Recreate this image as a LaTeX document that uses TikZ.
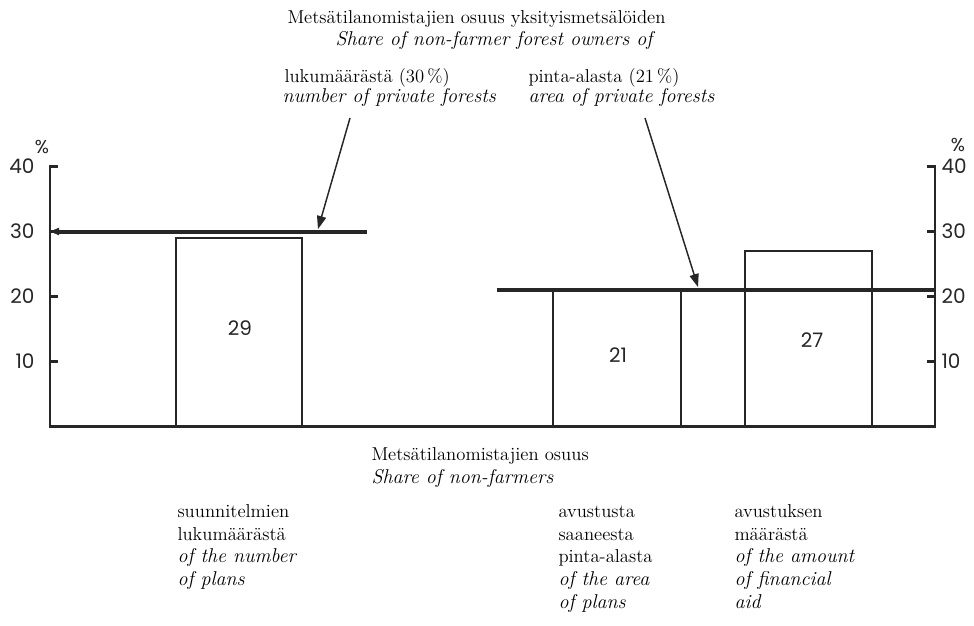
\documentclass[tikz,border=0pt]{standalone}
\usepackage{fontspec}
\newfontfamily\gothic{Poppins}
\newcommand{\en}{\itshape\fontsize{15}{16.9}\selectfont}
\definecolor{ink}{RGB}{38,38,38}
\tikzset{every picture/.style={line width=0.75pt}}
\tikzset{
  lbl/.style={anchor=base west, inner sep=0.75pt, text=black, align=left, font=\fontsize{14}{16.9}\selectfont},
  ticknum/.style={inner sep=0.75pt, text=ink, font=\gothic\fontsize{15}{18}\selectfont},
  pct/.style={inner sep=0.75pt, text=ink, font=\gothic\fontsize{14}{16}\selectfont},
  axis/.style={draw=ink, line width=1.8pt},
  bar/.style={draw=ink, line width=1.5pt},
  level/.style={draw=ink, line width=3pt},
  pointer/.style={draw=ink, line width=1.1pt},
  head/.style={fill=ink, draw opacity=0, line width=0.08},
}

\begin{document}
\begin{tikzpicture}[x=0.75pt,y=0.75pt,yscale=-1,xscale=1]
\useasboundingbox (0,0) rectangle (974,625);

%Axes
\draw[axis] (58,166.5) -- (50,166.5) -- (50,426.5) -- (935,426.5) -- (935,166.5) -- (927,166.5) ;
\foreach \v/\y in {10/361.5,20/296.5,30/231.5,40/166.5} {
  \draw[axis] (50,\y) -- (58,\y) ;
  \draw[axis] (927,\y) -- (935,\y) ;
  \node[ticknum, anchor=east] (lt\v) at (36,\y) {\v};
  \node[ticknum, anchor=west] (rt\v) at (940,\y) {\v};
}
\node[pct] (pctl) at (42,147) {\%};
\node[pct] (pctr) at (958,145) {\%};

%Bars
\draw[bar] (176,426.5) rectangle (302,238) ;
\draw[bar] (553,426.5) rectangle (681,290) ;
\draw[bar] (745,426.5) rectangle (872,251) ;
\node[ticknum] (val29) at (240,328) {29};
\node[ticknum] (val21) at (618,355) {21};
\node[ticknum] (val27) at (812,340) {27};

%Levels 30 % and 21 %
\draw[level] (56,231.5) -- (367,231.5) ;
\draw[head, shift={(50,231.5)}, rotate=0] (9,-3.8) -- (0,0) -- (9,3.8) -- cycle ;
\draw[level] (497,290) -- (935,290) ;

%Pointers
\coordinate (srcA) at (350,118);
\coordinate (tipA) at (318,229);
\coordinate (srcB) at (645,118);
\coordinate (tipB) at (698,287);
\draw[pointer, shorten >=7pt] (srcA) -- (tipA) ;
\draw[head, shift={(tipA)}, rotate=286.1] (13,-4.8) -- (0,0) -- (13,4.8) -- cycle ;
\draw[pointer, shorten >=7pt] (srcB) -- (tipB) ;
\draw[head, shift={(tipB)}, rotate=252.6] (13,-4.8) -- (0,0) -- (13,4.8) -- cycle ;

% Text Node
\node[lbl] (title) at (286,23) {Metsätilanomistajien osuus yksityismetsälöiden};
\node[lbl] (titleen) at (334,45) {\en Share of non-farmer forest owners of};
% Text Node
\node[lbl] (cntfi) at (283,82) {lukumäärästä (30\,\%)};
\node[lbl] (cnten) at (281,102) {\en number of private forests};
\node[lbl] (areafi) at (527,82) {pinta-alasta (21\,\%)};
\node[lbl] (areaen) at (527,102) {\en area of private forests};
% Text Node
\node[lbl] (sharefi) at (370,460) {Metsätilanomistajien osuus};
\node[lbl] (shareen) at (370,483) {\en Share of non-farmers};
% Text Node (multi-line: anchored at last baseline)
\node[lbl] (plans) at (176,585.5) {suunnitelmien\\lukumäärästä\\\en of the number\\\en of plans};
\node[lbl] (aidarea) at (557,608) {avustusta\\saaneesta\\pinta-alasta\\\en of the area\\\en of plans};
\node[lbl] (aidsum) at (733,608) {avustuksen\\määrästä\\\en of the amount\\\en of financial\\\en aid};

\end{tikzpicture}
\end{document}
